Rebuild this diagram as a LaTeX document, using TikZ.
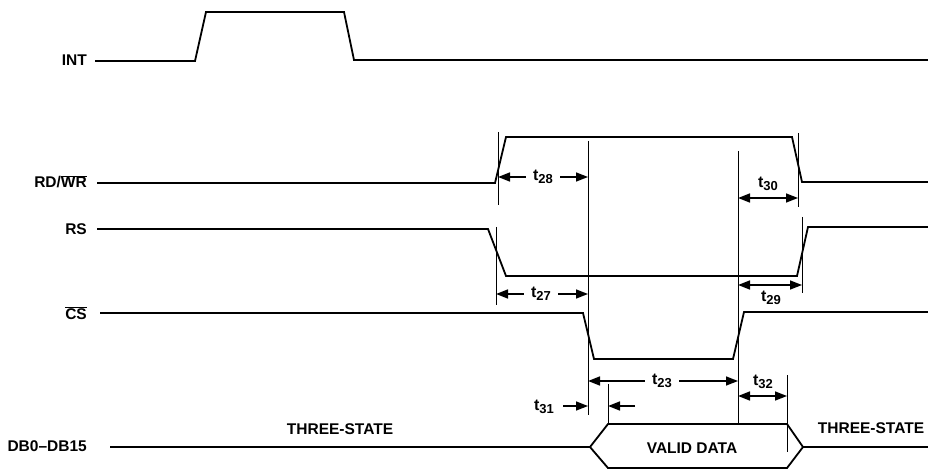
\documentclass[tikz,border=0pt]{standalone}
\usepackage{fontspec}
\setmainfont{Liberation Sans}
\usetikzlibrary{arrows.meta}
\newcommand\tn[1]{t\raisebox{-3.5pt}{\fontsize{13}{13}\selectfont #1}}
\begin{document}
\begin{tikzpicture}[x=1pt,y=-1pt,
  sig/.style={line width=1.8pt, line join=miter},
  guide/.style={line width=0.8pt},
  dim/.style={line width=1.6pt,-{Triangle[length=12pt,width=9pt]}},
  ddim/.style={line width=1.6pt,{Triangle[length=12pt,width=9pt]}-{Triangle[length=12pt,width=9pt]}},
  lab/.style={font=\fontsize{15.5}{15.5}\selectfont\bfseries, inner sep=0pt},
  tl/.style={font=\fontsize{16}{16}\selectfont\bfseries, inner ysep=0pt, inner xsep=7pt}
]
\useasboundingbox (0,0) rectangle (928,470);
% signal labels
\node[lab,anchor=base east] (lint) at (87,66) {INT};
\node[lab,anchor=base east] (lrd) at (87,188) {RD/$\overline{\mbox{WR}}$};
\node[lab,anchor=base east] (lrs) at (87,235) {RS};
\node[lab,anchor=base east] (lcs) at (87,319) {$\overline{\mbox{CS}}$};
\node[lab,anchor=base east] (ldb) at (87,451) {DB0–DB15};
% waveforms
\draw[sig] (95,61) -- (195,61) -- (206,12) -- (344,12) -- (354,60) -- (928,60);
\draw[sig] (97,183) -- (495,183) -- (506,137) -- (792,137) -- (802,182) -- (928,182);
\draw[sig] (97,229) -- (488,229) -- (506,276) -- (797,276) -- (808,227) -- (928,227);
\draw[sig] (100,313) -- (583,313) -- (594,359) -- (733,359) -- (744,312) -- (928,312);
\draw[sig] (110,447) -- (590,447) -- (608,424) -- (787,424) -- (803,447) -- (928,447);
\draw[sig] (590,447) -- (608,468) -- (787,468) -- (803,447);
% guide lines
\coordinate (ga1) at (498,132); \coordinate (ga2) at (498,205);
\coordinate (gb1) at (588,141); \coordinate (gb2) at (588,415);
\coordinate (gc1) at (738,151); \coordinate (gc2) at (738,424);
\coordinate (gd1) at (798,133); \coordinate (gd2) at (798,207);
\coordinate (ge1) at (496,227); \coordinate (ge2) at (496,305);
\coordinate (gf1) at (802,217); \coordinate (gf2) at (802,293);
\coordinate (gg1) at (787,375); \coordinate (gg2) at (787,452);
\coordinate (gh1) at (608,384); \coordinate (gh2) at (608,424);
\foreach \g in {a,b,c,d,e,f,g,h}{\draw[guide] (g\g1) -- (g\g2);}
% timing labels
\node[tl] (t28) at (543,177) {\tn{28}};
\draw[dim] (t28.west) -- (t28 -| ga1);
\draw[dim] (t28.east) -- (t28 -| gb1);
\node[tl] (t27) at (541,294) {\tn{27}};
\draw[dim] (t27.west) -- (t27 -| ge1);
\draw[dim] (t27.east) -- (t27 -| gb1);
\node[tl] (t23) at (662,381) {\tn{23}};
\draw[dim] (t23.west) -- (t23 -| gb1);
\draw[dim] (t23.east) -- (t23 -| gc1);
\node[tl] (t30) at (768,184) {\tn{30}};
\coordinate (a30) at (768,198);
\draw[ddim] (a30 -| gc1) -- (a30 -| gd1);
\node[tl] (t29) at (771,298) {\tn{29}};
\coordinate (a29) at (771,285);
\draw[ddim] (a29 -| gc1) -- (a29 -| gf1);
\node[tl] (t32) at (763,382) {\tn{32}};
\coordinate (a32) at (763,396);
\draw[ddim] (a32 -| gc1) -- (a32 -| gg1);
\node[tl,inner xsep=0pt] (t31) at (544,407) {\tn{31}};
\coordinate (a31a) at (563,406);
\coordinate (a31b) at (635,406);
\draw[dim] (a31a) -- (a31a -| gb1);
\draw[dim] (a31b) -- (a31b -| gh1);
% data labels
\node[lab] (ts1) at (340,429) {THREE-STATE};
\node[lab] (ts2) at (871,428) {THREE-STATE};
\node[lab] (vd) at (692,448) {VALID DATA};
\end{tikzpicture}
\end{document}
